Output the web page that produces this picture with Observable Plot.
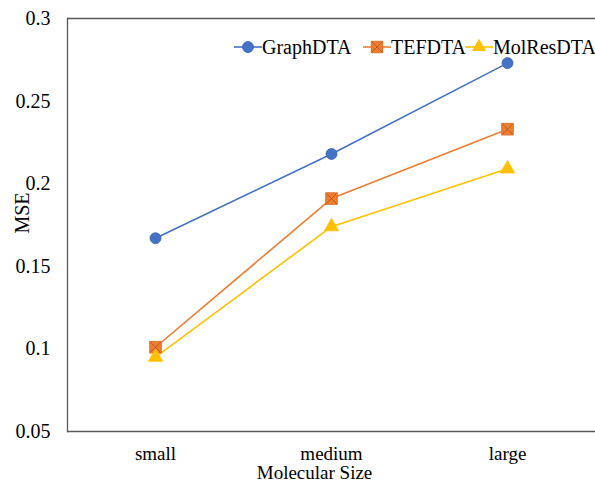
<!DOCTYPE html>
<html>
<head>
<meta charset="utf-8">
<script src="https://cdn.jsdelivr.net/npm/d3@7"></script>
<script src="https://cdn.jsdelivr.net/npm/@observablehq/plot@0.6"></script>
<style>
  body { margin: 0; background: #fff; }
  #wrap { position: relative; width: 595px; height: 483px; }
  #wrap svg { font-family: "Liberation Serif", "Times New Roman", serif; }
  #legend { position: absolute; left: 0; top: 0; pointer-events: none; }
</style>
</head>
<body>
<div id="wrap"></div>
<script>
const categories = ["small", "medium", "large"];
const seriesNames = ["GraphDTA", "TEFDTA", "MolResDTA"];
const graphDTA = [0.167, 0.218, 0.273];
const tefDTA = [0.101, 0.191, 0.233];
const molResDTA = [0.095, 0.174, 0.209];
const yTicks = [0.05, 0.1, 0.15, 0.2, 0.25, 0.3];
const colors = ["#4472C4", "#ED7D31", "#FFC000"];

const rows = [];
[graphDTA, tefDTA, molResDTA].forEach((vals, si) => {
  vals.forEach((v, i) => rows.push({series: seriesNames[si], size: categories[i], mse: v}));
});
const bySeries = s => rows.filter(d => d.series === s);

const FS = 20;
const FSX = 19;
const chart = Plot.plot({
  width: 595,
  height: 483,
  marginLeft: 67,
  marginRight: 0,
  marginTop: 18,
  marginBottom: 52,
  style: {fontFamily: "Liberation Serif, Times New Roman, serif", fontSize: FS + "px", color: "#000", background: "#fff"},
  x: {type: "point", domain: categories, padding: 0.5, label: null},
  y: {domain: [0.05, 0.3], label: null},
  marks: [
    Plot.axisY({ticks: yTicks, tickSize: 0, tickPadding: 17, tickFormat: d => String(+d.toFixed(2)), fontSize: FS, fill: "#000"}),
    Plot.axisX({tickSize: 0, tickPadding: 15, fontSize: FSX, fill: "#000"}),
    Plot.ruleY([yTicks[0], yTicks[yTicks.length - 1]], {stroke: "#595959", strokeWidth: 1.3}),
    Plot.frame({anchor: "left", stroke: "#595959", strokeWidth: 1.3}),
    Plot.line(bySeries("GraphDTA"), {x: "size", y: "mse", stroke: colors[0], strokeWidth: 1.6}),
    Plot.line(bySeries("TEFDTA"), {x: "size", y: "mse", stroke: colors[1], strokeWidth: 1.6}),
    Plot.line(bySeries("MolResDTA"), {x: "size", y: "mse", stroke: colors[2], strokeWidth: 1.6}),
    Plot.dot(bySeries("GraphDTA"), {x: "size", y: "mse", symbol: "circle", r: 5.5, fill: colors[0], stroke: "#3A64B0", strokeWidth: 0.8}),
    Plot.dot(bySeries("TEFDTA"), {x: "size", y: "mse", symbol: "square", r: 6.6, fill: colors[1], stroke: "#D46A22", strokeWidth: 0.8}),
    Plot.dot(bySeries("TEFDTA"), {x: "size", y: "mse", symbol: "times", r: 4.6, stroke: "#C05A18", strokeWidth: 1}),
    Plot.dot(bySeries("MolResDTA"), {x: "size", y: "mse", symbol: "triangle", r: 5.3, fill: colors[2], stroke: colors[2], strokeWidth: 0.8}),
    Plot.text(["Molecular Size"], {frameAnchor: "bottom", dx: -17, dy: 41, fontSize: FSX, fill: "#000", lineAnchor: "middle"}),
    Plot.text(["MSE"], {frameAnchor: "left", textAnchor: "middle", rotate: -90, dx: -45, dy: -12, fontSize: FS, fill: "#000"})
  ]
});
document.getElementById("wrap").appendChild(chart);

// Legend overlay
const lg = d3.select("#wrap").append("svg").attr("id", "legend").attr("width", 595).attr("height", 483);
const items = [
  {name: seriesNames[0], color: colors[0], x0: 234, sym: "circle"},
  {name: seriesNames[1], color: colors[1], x0: 363, sym: "square"},
  {name: seriesNames[2], color: colors[2], x0: 465, sym: "triangle"}
];
const ly = 47;
items.forEach(it => {
  const g = lg.append("g");
  g.append("line").attr("x1", it.x0).attr("x2", it.x0 + 28).attr("y1", ly).attr("y2", ly)
    .attr("stroke", it.color).attr("stroke-width", 1.6);
  const cx = it.x0 + 14;
  if (it.sym === "circle") {
    g.append("circle").attr("cx", cx).attr("cy", ly).attr("r", 5.5).attr("fill", it.color).attr("stroke", "#3A64B0").attr("stroke-width", 0.8);
  } else if (it.sym === "square") {
    g.append("rect").attr("x", cx - 5.8).attr("y", ly - 5.8).attr("width", 11.6).attr("height", 11.6).attr("fill", it.color).attr("stroke", "#D46A22").attr("stroke-width", 0.8);
    g.append("path").attr("d", `M${cx-5},${ly-5}L${cx+5},${ly+5}M${cx-5},${ly+5}L${cx+5},${ly-5}`).attr("stroke", "#C05A18").attr("stroke-width", 1);
  } else {
    g.append("path").attr("d", d3.symbol(d3.symbolTriangle, Math.PI * 5.3 * 5.3)()).attr("transform", `translate(${cx},${ly})`).attr("fill", it.color);
  }
  g.append("text").attr("x", it.x0 + 28).attr("y", ly + 7).attr("font-size", FS).attr("fill", "#000").text(it.name);
});
</script>
</body>
</html>
